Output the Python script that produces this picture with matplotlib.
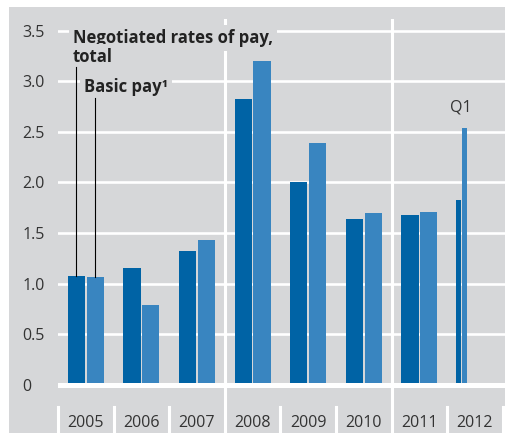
import matplotlib
matplotlib.use("Agg")
import matplotlib.pyplot as plt
from matplotlib.patches import Rectangle
import numpy as np

# ---- data ----
years = ['2005', '2006', '2007', '2008', '2009', '2010', '2011', '2012']
total = [1.07, 1.15, 1.32, 2.82, 2.00, 1.64, 1.68, 1.83]      # Negotiated rates of pay, total
basic = [1.06, 0.79, 1.43, 3.20, 2.39, 1.70, 1.71, 2.54]      # Basic pay
yticks = [0, 0.5, 1.0, 1.5, 2.0, 2.5, 3.0, 3.5]
ytick_labels = ['0', '0.5', '1.0', '1.5', '2.0', '2.5', '3.0', '3.5']

# ---- style ----
DARK = '#0063a5'
LIGHT = '#3985c0'
GREY = '#d6d7d9'
TXT = '#333333'
ANN = '#222222'
FONT = 'Open Sans'
plt.rcParams['font.family'] = [FONT, 'DejaVu Sans']

W, H = 505, 437
fig = plt.figure(figsize=(W / 100, H / 100), dpi=100)
fig.patch.set_facecolor('white')
fig.patches.append(Rectangle((9 / W, (H - 433) / H), (W - 9) / W, (433 - 7) / H,
                             transform=fig.transFigure, facecolor=GREY, edgecolor='none', zorder=-5))

ax = fig.add_axes([58 / W, (H - 433) / H, (W - 58) / W, (433 - 19) / H])
ax.set_zorder(2)
ax.set_facecolor('none')
ax.set_xlim(-0.5, 7.54)
ax.set_ylim(-0.477, 3.614)
for s in ax.spines.values():
    s.set_visible(False)

n = len(years)
x = np.arange(n)
bw = 0.31
off = 0.17
# full years
ax.bar(x[:-1] - off, total[:-1], width=bw, color=DARK, zorder=3)
ax.bar(x[:-1] + off, basic[:-1], width=bw, color=LIGHT, zorder=3)
# 2012 Q1: narrow bars
qw = 0.09
ax.bar(x[-1] - 0.30, total[-1], width=qw, color=DARK, zorder=3)
ax.bar(x[-1] - 0.19, basic[-1], width=qw, color=LIGHT, zorder=3)

# grid lines
for yv in yticks[1:]:
    ax.axhline(yv, color='white', lw=1.9, zorder=1)
ax.axhline(0, color='white', lw=3.6, zorder=4)
# long vertical separators
for xv in [2.5, 5.5]:
    ax.axvline(xv, color='white', lw=2.2, zorder=1)
# short separators in the label area
for xv in [-0.5, 0.5, 1.5, 3.5, 4.5, 6.5, 7.5]:
    ax.plot([xv, xv], [-0.22, -0.477], color='white', lw=2.2, zorder=1, clip_on=False)

ax.set_xticks([])
ax.set_yticks(yticks)
ax.set_yticklabels(ytick_labels, ha='left', fontsize=11.5, color=TXT)
ax.tick_params(axis='y', length=0, pad=25.5)

for i, yr in enumerate(years):
    ax.text(x[i], -0.375, yr, ha='center', va='center', fontsize=11.5, color=TXT)

# annotations
bb = dict(facecolor=GREY, edgecolor='none', pad=3)
ax.text(-0.23, 3.38, 'Negotiated rates of pay,', fontsize=12, fontweight='bold', color=ANN,
        ha='left', va='baseline', bbox=bb, zorder=5)
ax.text(-0.23, 3.19, 'total', fontsize=12, fontweight='bold', color=ANN,
        ha='left', va='baseline', bbox=bb, zorder=5)
ax.text(-0.03, 2.89, 'Basic pay\u00b9', fontsize=12, fontweight='bold', color=ANN,
        ha='left', va='baseline', bbox=bb, zorder=5)
ax.plot([x[0] - off] * 2, [total[0], 3.14], color='black', lw=0.8, zorder=6)
ax.plot([x[0] + off] * 2, [basic[0], 2.83], color='black', lw=0.8, zorder=6)
ax.text(x[-1] - 0.26, 2.74, 'Q1', fontsize=11.5, color=TXT, ha='center', va='center', zorder=5)

fig.savefig('out.png', dpi=100, facecolor='white')
